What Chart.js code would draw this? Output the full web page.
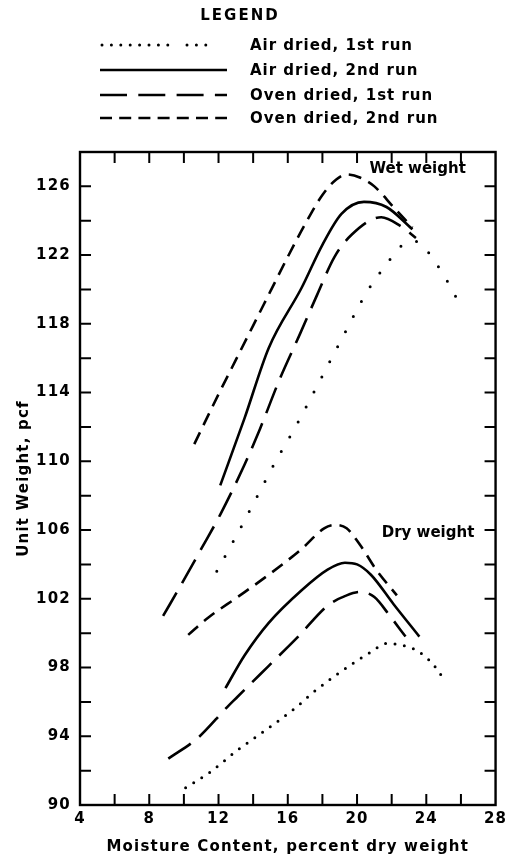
<!DOCTYPE html>
<html>
<head>
<meta charset="utf-8">
<script src="https://cdn.jsdelivr.net/npm/chart.js@4"></script>
<style>
html, body { margin: 0; padding: 0; background: #fff; }
#wrap { position: relative; width: 511px; height: 861px; overflow: hidden; }
#chart { position: absolute; left: 0; top: 0; }
.lg { position: absolute; font-family: 'DejaVu Sans', sans-serif; font-weight: bold; color: #000; font-size: 15px; line-height: 18px; white-space: nowrap; }
#lgTitle { left: 190px; top: 6px; width: 100px; text-align: center; letter-spacing: 2px; }
.lgText { left: 250px; letter-spacing: 1px; }
.lgLine { position: absolute; left: 96px; }
</style>
</head>
<body>
<div id="wrap">
  <canvas id="chart" width="511" height="861"></canvas>
  <div class="lg" id="lgTitle">LEGEND</div>
  <div id="legendRows"></div>
</div>
<script>
// ---- data ----
const seriesNames = ['Air dried, 1st run', 'Air dried, 2nd run', 'Oven dried, 1st run', 'Oven dried, 2nd run'];

const airDried1WetX = [11.9, 13.1, 14.1, 15.3, 16.5, 17.7, 19.0, 20.6, 21.5, 22.8, 23.4, 24.0, 25.2, 25.9];
const airDried1WetY = [103.6, 105.8, 107.7, 110.0, 112.1, 114.4, 116.9, 119.9, 121.2, 122.7, 122.8, 122.3, 120.5, 119.2];
const airDried2WetX = [12.1, 13.5, 14.9, 16.8, 18.0, 19.1, 20.4, 21.7, 23.2];
const airDried2WetY = [108.6, 112.5, 116.6, 120.1, 122.6, 124.4, 125.1, 124.8, 123.5];
const ovenDried1WetX = [8.8, 10.0, 11.0, 12.1, 13.5, 14.4, 15.5, 16.7, 17.7, 18.7, 19.7, 21.4, 22.5, 23.4];
const ovenDried1WetY = [101.0, 103.1, 104.9, 106.9, 109.8, 111.9, 114.7, 117.4, 119.7, 121.9, 123.2, 124.2, 123.7, 123.0];
const ovenDried2WetX = [10.6, 12.0, 13.0, 14.0, 15.0, 16.0, 17.0, 18.0, 18.8, 19.4, 20.2, 21.0, 22.1, 23.2];
const ovenDried2WetY = [111.0, 113.9, 115.9, 117.9, 119.9, 121.9, 123.8, 125.5, 126.4, 126.7, 126.5, 126.0, 124.8, 123.6];

const airDried1DryX = [10.1, 11.5, 13.1, 14.5, 16.5, 17.4, 18.7, 20.0, 20.8, 21.7, 22.6, 23.6, 24.7, 25.0];
const airDried1DryY = [91.0, 91.9, 93.2, 94.2, 95.7, 96.5, 97.5, 98.4, 98.9, 99.4, 99.3, 98.9, 97.8, 97.3];
const airDried2DryX = [12.4, 13.5, 14.9, 16.8, 18.3, 19.3, 20.0, 20.8, 22.1, 23.6];
const airDried2DryY = [96.8, 98.7, 100.6, 102.5, 103.7, 104.1, 104.0, 103.4, 101.7, 99.8];
const ovenDried1DryX = [9.1, 10.8, 12.5, 13.1, 14.9, 16.6, 18.3, 19.4, 20.2, 21.0, 21.9, 22.8];
const ovenDried1DryY = [92.7, 93.9, 95.7, 96.3, 98.1, 99.8, 101.6, 102.2, 102.4, 102.1, 101.0, 99.8];
const ovenDried2DryX = [10.25, 11.4, 13.1, 14.9, 16.8, 18.1, 18.7, 19.4, 20.2, 21.1, 22.3];
const ovenDried2DryY = [99.9, 100.9, 102.1, 103.4, 104.9, 106.1, 106.3, 106.1, 105.1, 103.7, 102.2];

const xTickLabels = [4, 8, 12, 16, 20, 24, 28];
const yTickLabels = [90, 94, 98, 102, 106, 110, 114, 118, 122, 126];
const xTitle = 'Moisture Content, percent dry weight';
const yTitle = 'Unit Weight, pcf';
const noteTexts = ['Wet weight', 'Dry weight'];
const noteX = [23.5, 24.1];
const noteY = [127.0, 105.8];

// ---- styles ----
const styles = [
  { dash: [0, 17], cap: 'round', width: 3 },    // air dried 1st (dotted)
  { dash: [], cap: 'butt', width: 2.6 },        // air dried 2nd (solid)
  { dash: [27, 11], cap: 'butt', width: 2.6 },  // oven dried 1st (long dash)
  { dash: [13, 8], cap: 'butt', width: 2.6 }    // oven dried 2nd (short dash)
];
const dryDottedDash = [0, 9.5];

function zip(xs, ys) { return xs.map((x, i) => ({ x: x, y: ys[i] })); }

const curves = [
  [airDried1WetX, airDried1WetY, 0, 'wet'],
  [airDried2WetX, airDried2WetY, 1, 'wet'],
  [ovenDried1WetX, ovenDried1WetY, 2, 'wet'],
  [ovenDried2WetX, ovenDried2WetY, 3, 'wet'],
  [airDried1DryX, airDried1DryY, 0, 'dry'],
  [airDried2DryX, airDried2DryY, 1, 'dry'],
  [ovenDried1DryX, ovenDried1DryY, 2, 'dry'],
  [ovenDried2DryX, ovenDried2DryY, 3, 'dry']
];

const datasets = curves.map(c => {
  const s = styles[c[2]];
  return {
    label: seriesNames[c[2]] + ' (' + c[3] + ')',
    data: zip(c[0], c[1]),
    borderColor: '#000',
    borderWidth: s.width,
    borderDash: (c[2] === 0 && c[3] === 'dry') ? dryDottedDash : s.dash,
    borderCapStyle: s.cap,
    pointRadius: 0,
    fill: false,
    cubicInterpolationMode: 'monotone'
  };
});

Chart.defaults.font.family = "'DejaVu Sans', sans-serif";
Chart.defaults.font.weight = 'bold';
Chart.defaults.color = '#000';

const spacingPlugin = {
  id: 'spacing',
  beforeDraw(chart) { chart.ctx.letterSpacing = '1.2px'; }
};

const framePlugin = {
  id: 'frame',
  afterDraw(chart) {
    const { ctx, chartArea: a, scales } = chart;
    const x = scales.x, y = scales.y;
    ctx.save();
    ctx.strokeStyle = '#000';
    ctx.lineWidth = 2.4;
    ctx.strokeRect(a.left, a.top, a.right - a.left, a.bottom - a.top);
    ctx.lineWidth = 2;
    const L = 11;
    ctx.beginPath();
    x.ticks.forEach(t => {
      const px = x.getPixelForValue(t.value);
      if (px <= a.left + 1 || px >= a.right - 1) return;
      ctx.moveTo(px, a.bottom); ctx.lineTo(px, a.bottom - L);
      ctx.moveTo(px, a.top); ctx.lineTo(px, a.top + L);
    });
    y.ticks.forEach(t => {
      const py = y.getPixelForValue(t.value);
      if (py <= a.top + 1 || py >= a.bottom - 1) return;
      ctx.moveTo(a.left, py); ctx.lineTo(a.left + L, py);
      ctx.moveTo(a.right, py); ctx.lineTo(a.right - L, py);
    });
    ctx.stroke();
    // notes
    ctx.letterSpacing = '0px';
    ctx.fillStyle = '#000';
    ctx.font = "bold 15px 'DejaVu Sans', sans-serif";
    ctx.textAlign = 'center';
    ctx.textBaseline = 'middle';
    noteTexts.forEach((t, i) => {
      ctx.fillText(t, x.getPixelForValue(noteX[i]), y.getPixelForValue(noteY[i]));
    });
    ctx.restore();
  }
};

new Chart(document.getElementById('chart'), {
  type: 'line',
  data: { datasets: datasets },
  options: {
    responsive: false,
    animation: false,
    layout: { padding: { top: 152, right: 6, left: 0, bottom: 0 } },
    plugins: { legend: { display: false }, tooltip: { enabled: false } },
    scales: {
      x: {
        type: 'linear', min: 4, max: 28,
        grid: { display: false, drawTicks: false },
        border: { display: false },
        ticks: {
          stepSize: 2, autoSkip: false, maxRotation: 0, padding: 5,
          font: { size: 15, weight: 'bold' },
          callback: v => xTickLabels.includes(v) ? String(v) : ''
        },
        title: { display: true, text: xTitle, font: { size: 15, weight: 'bold' }, padding: { top: 0, bottom: 5 } },
        afterFit: s => { s.height = 56; }
      },
      y: {
        type: 'linear', min: 90, max: 128,
        grid: { display: false, drawTicks: false },
        border: { display: false },
        ticks: {
          stepSize: 2, autoSkip: false, padding: 9,
          font: { size: 15, weight: 'bold' },
          callback: v => yTickLabels.includes(v) ? String(v) : ''
        },
        title: { display: true, text: yTitle, font: { size: 15, weight: 'bold' }, padding: { top: 15, bottom: 0 } },
        afterFit: s => { s.width = 80; }
      }
    }
  },
  plugins: [spacingPlugin, framePlugin]
});

// ---- HTML legend ----
const legendRowY = [45, 70, 95, 118];
const rowsEl = document.getElementById('legendRows');
const ns = 'http://www.w3.org/2000/svg';
seriesNames.forEach((name, i) => {
  const svg = document.createElementNS(ns, 'svg');
  svg.setAttribute('width', '140');
  svg.setAttribute('height', '10');
  svg.setAttribute('class', 'lgLine');
  svg.style.top = (legendRowY[i] - 5) + 'px';
  const segs = [];
  if (i === 0) {
    segs.push([6, 80, '0 9.4', 'round']);
    segs.push([91, 110, '0 9.4', 'round']);
  } else if (i === 1) {
    segs.push([4, 131, null, 'butt']);
  } else if (i === 2) {
    segs.push([4, 131, '27 11.3', 'butt']);
  } else {
    segs.push([4, 131, '12 7.2', 'butt']);
  }
  segs.forEach(sg => {
    const ln = document.createElementNS(ns, 'line');
    ln.setAttribute('x1', sg[0]); ln.setAttribute('x2', sg[1]);
    ln.setAttribute('y1', 5); ln.setAttribute('y2', 5);
    ln.setAttribute('stroke', '#000');
    ln.setAttribute('stroke-width', i === 0 ? '3' : '2.6');
    ln.setAttribute('stroke-linecap', sg[3]);
    if (sg[2]) ln.setAttribute('stroke-dasharray', sg[2]);
    svg.appendChild(ln);
  });
  rowsEl.appendChild(svg);
  const t = document.createElement('div');
  t.className = 'lg lgText';
  t.style.top = (legendRowY[i] - 9) + 'px';
  t.textContent = name;
  rowsEl.appendChild(t);
});
</script>
</body>
</html>
